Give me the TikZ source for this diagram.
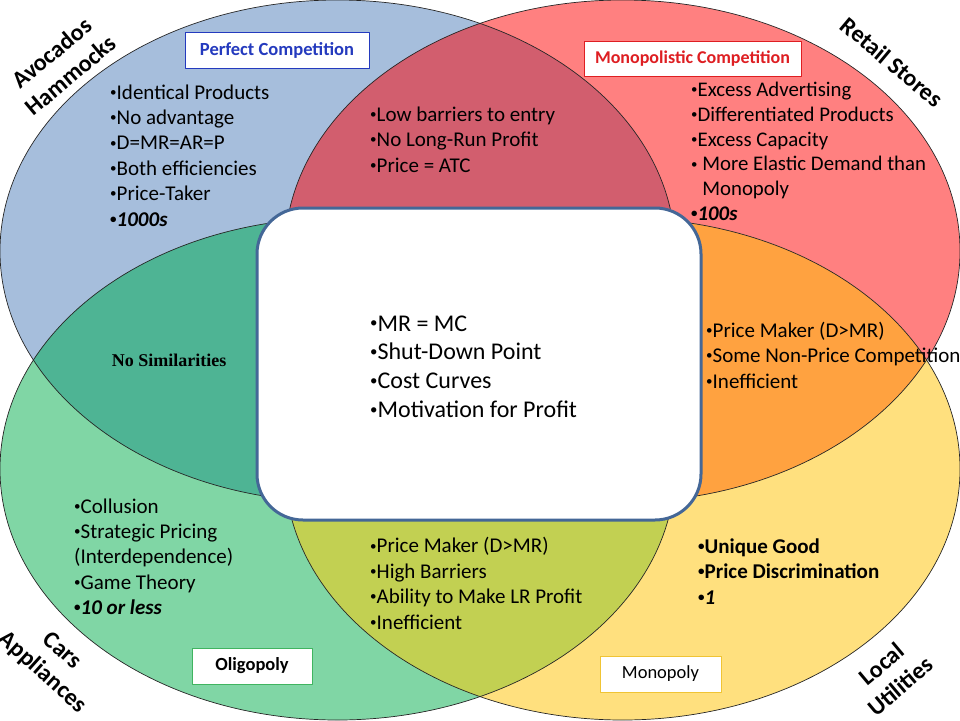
\documentclass[tikz,border=0pt]{standalone}
\usepackage{fontspec}
\usepackage{graphicx}
\setmainfont{Carlito}
\newfontfamily\timesbold{Liberation Serif}
\newcommand\bul{\raisebox{0.13em}{\scalebox{0.62}{•}}}
\definecolor{pcfill}{RGB}{166,190,220}
\definecolor{mcfill}{RGB}{255,128,128}
\definecolor{olfill}{RGB}{128,214,165}
\definecolor{mofill}{RGB}{255,224,126}
\definecolor{pcmc}{RGB}{210,94,110}
\definecolor{pcol}{RGB}{78,180,148}
\definecolor{mcmo}{RGB}{255,162,64}
\definecolor{olmo}{RGB}{194,208,82}
\definecolor{coreedge}{RGB}{68,103,151}
\definecolor{pcblue}{RGB}{36,58,190}
\definecolor{mcred}{RGB}{222,30,34}
\definecolor{olgreen}{RGB}{64,180,96}
\definecolor{mogold}{RGB}{240,196,52}
\begin{document}
\begin{tikzpicture}[x=1pt,y=-1pt,line join=round,line cap=round,
	oval/.style={x radius=337.5pt,y radius=251pt},
	ring/.style={draw=black!85,line width=0.7pt},
	facts/.style={anchor=base west,align=left,inner sep=0pt,font=\fontsize{21}{25.4}\selectfont},
	market/.style={draw,fill=white,line width=1pt,inner sep=0pt,minimum height=36pt,font=\fontsize{18}{22}\selectfont},
	example/.style={align=center,inner sep=0pt,font=\bfseries\fontsize{24}{29}\selectfont}]
	\useasboundingbox (0,0) rectangle (960,720);
	\coordinate (pc) at (337.5,251);
	\coordinate (mc) at (622.5,251);
	\coordinate (ol) at (337.5,469);
	\coordinate (mo) at (622.5,469);
	% the four markets
	\fill[pcfill] (pc) ellipse[oval];
	\fill[mcfill] (mc) ellipse[oval];
	\fill[olfill] (ol) ellipse[oval];
	\fill[mofill] (mo) ellipse[oval];
	\begin{scope}
		\clip (pc) ellipse[oval];
		\fill[pcmc] (mc) ellipse[oval];
		\fill[pcol] (ol) ellipse[oval];
	\end{scope}
	\begin{scope}
		\clip (mo) ellipse[oval];
		\fill[mcmo] (mc) ellipse[oval];
		\fill[olmo] (ol) ellipse[oval];
	\end{scope}
	\draw[ring] (pc) ellipse[oval];
	\draw[ring] (mc) ellipse[oval];
	\draw[ring] (ol) ellipse[oval];
	\draw[ring] (mo) ellipse[oval];
	% shared by all (base = last line)
	\node[draw=coreedge,fill=white,line width=3pt,rounded corners=46pt,
		minimum width=444pt,minimum height=312pt] (core) at (479,364) {};
	\node[facts,font=\fontsize{24}{28.8}\selectfont] (corefacts) at (370,417.4)
		{\bul MR = MC\\\bul Shut-Down Point\\\bul Cost Curves\\\bul Motivation for Profit};
	% market names
	\path
	(277,50) node[market,draw=pcblue,text=pcblue,minimum width=184pt,font=\bfseries\fontsize{18.5}{22}\selectfont] (pcname) {Perfect Competition}
	(692.5,58.5) node[market,draw=mcred,text=mcred,minimum width=217pt,minimum height=35pt,font=\bfseries\fontsize{18}{22}\selectfont] (mcname) {Monopolistic Competition}
	(252,666) node[market,draw=olgreen,minimum width=120pt,font=\bfseries\fontsize{18.5}{22}\selectfont] (olname) {Oligopoly}
	(660.5,674) node[market,draw=mogold,minimum width=121pt,font=\fontsize{18.5}{22}\selectfont] (moname) {Monopoly}
	;
	% features
	\path
	(110,226) node[facts] (pcfacts) {\bul Identical Products\\\bul No advantage\\\bul D=MR=AR=P\\\bul Both efficiencies\\\bul Price-Taker\\\textbf{\bul\textit{1000s}}}
	(370,172) node[facts] (pcmcfacts) {\bul Low barriers to entry\\\bul No Long-Run Profit\\\bul Price = ATC}
	(691,220.5) node[facts,font=\fontsize{20.8}{24.8}\selectfont] (mcfacts) {\bul Excess Advertising\\\bul Differentiated Products\\\bul Excess Capacity\\\bul\ More Elastic Demand than\\\phantom{\bul\ }Monopoly\\\textbf{\bul\textit{100s}}}
	(706,388) node[facts] (mcmofacts) {\bul Price Maker (D>MR)\\\bul Some Non-Price Competition\\\bul Inefficient}
	(74,614.6) node[facts] (olfacts) {\bul Collusion\\\bul Strategic Pricing\\(Interdependence)\\\bul Game Theory\\\textbf{\bul\textit{10 or less}}}
	(370,629) node[facts] (olmofacts) {\bul Price Maker (D>MR)\\\bul High Barriers\\\bul Ability to Make LR Profit\\\bul Inefficient}
	(698,604) node[facts,font=\bfseries\fontsize{21}{25.4}\selectfont] (mofacts) {\bul Unique Good\\\bul Price Discrimination\\\bul\textit{1}}
	(169,360) node[inner sep=0pt,font=\timesbold\bfseries\fontsize{18}{20}\selectfont] (pcolfacts) {No Similarities}
	;
	% examples
	\path
	(61,64) node[example,rotate=40] (pcex) {Avocados\\Hammocks}
	(892,62) node[example,rotate=-40] (mcex) {Retail Stores}
	(52,662) node[example,rotate=-42] (olex) {Cars\\Appliances}
	(891,675) node[example,rotate=40] (moex) {Local\\Utilities}
	;
\end{tikzpicture}
\end{document}
